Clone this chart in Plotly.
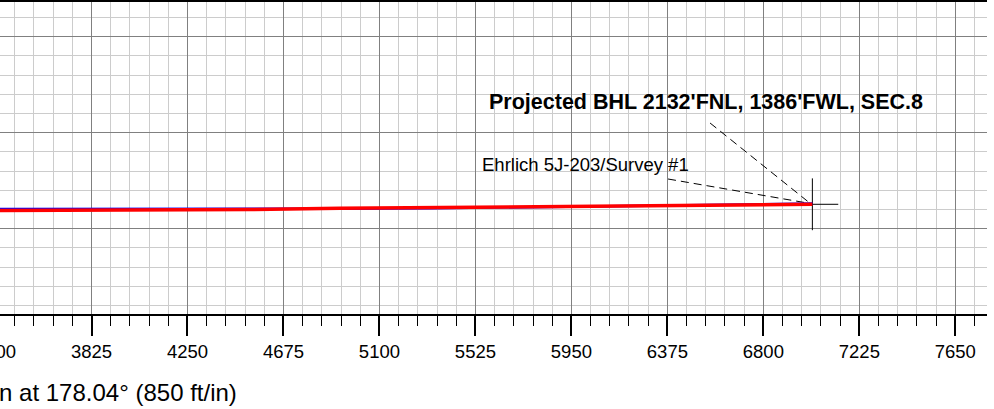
import plotly.graph_objects as go

# Vertical section (ft) vs TVD (ft)
plan_vs = [3200, 3420, 4173, 4527, 4925, 5324, 5678, 6076, 6431, 7017]
plan_tvd = [8413, 8413, 8413, 8414, 8412, 8410, 8405, 8400, 8396, 8389]

actual_vs = [3200, 3420, 4173, 4527, 4925, 5324, 5678, 6076, 6431, 7017]
actual_tvd = [8421, 8420, 8419, 8415, 8410, 8407, 8404, 8402, 8399, 8392]

bhl_vs = [7017]
bhl_tvd = [8392]

# leader lines: label end -> BHL
survey_leader_vs = [6378, 7005]
survey_leader_tvd = [8280, 8388]
bhl_leader_vs = [6564, 7005]
bhl_leader_tvd = [8032, 8386]

# the original sheet is cropped on the left: draw a little wider and slide it over
CROP = 30
x_range = [3287.0, 7790.3]
y_range = [8877.8, 7496.2]

fig = go.Figure()

fig.add_trace(go.Scatter(
    x=bhl_vs, y=bhl_tvd, mode='markers',
    marker=dict(symbol='cross-thin', size=37, line=dict(color='black', width=1)),
    hoverinfo='skip'))

for lx, ly in [(survey_leader_vs, survey_leader_tvd), (bhl_leader_vs, bhl_leader_tvd)]:
    fig.add_trace(go.Scatter(
        x=lx, y=ly, mode='lines',
        line=dict(color='black', width=1, dash='8px,5px'),
        hoverinfo='skip'))

fig.add_trace(go.Scatter(
    x=plan_vs, y=plan_tvd, mode='lines', name='Plan',
    line=dict(color='#0000ff', width=2.5)))
fig.add_trace(go.Scatter(
    x=actual_vs, y=actual_tvd, mode='lines', name='Ehrlich 5J-203/Survey #1',
    line=dict(color='#ff0000', width=3.5)))

fig.add_annotation(
    x=5545, y=8216, xref='x', yref='y', xanchor='left', yanchor='middle',
    text='Ehrlich 5J-203/Survey #1', showarrow=False,
    font=dict(size=18.5, color='black', family='Liberation Sans, Arial'))
fig.add_annotation(
    x=5575, y=7941, xref='x', yref='y', xanchor='left', yanchor='middle',
    text="<b>Projected BHL 2132'FNL, 1386'FWL, SEC.8</b>", showarrow=False,
    font=dict(size=21.5, color='black', family='Liberation Sans, Arial'))
fig.add_annotation(
    x=(239 + CROP) / (987 + CROP), y=-0.25, xref='paper', yref='paper',
    xanchor='right', yanchor='middle',
    text='Vertical Section at 178.04° (850 ft/in)', showarrow=False,
    font=dict(size=24, color='black', family='Liberation Sans, Arial'))

fig.update_xaxes(
    range=x_range, tick0=0, dtick=425,
    showgrid=True, gridcolor='#808080', gridwidth=1,
    ticks='outside', ticklen=20, tickwidth=1.5, tickcolor='black',
    showline=True, linecolor='black', linewidth=2, mirror=True,
    zeroline=False,
    tickfont=dict(size=18.5, color='black', family='Liberation Sans, Arial'),
    minor=dict(dtick=85, tick0=0, showgrid=True, gridcolor='#cccccc', gridwidth=1,
               ticks='outside', ticklen=10, tickwidth=1, tickcolor='black'),
    automargin=False)
fig.update_yaxes(
    range=y_range, tick0=0, dtick=425,
    showgrid=True, gridcolor='#808080', gridwidth=1,
    showticklabels=False, ticks='', showline=False, zeroline=False,
    minor=dict(dtick=85, tick0=0, showgrid=True, gridcolor='#cccccc', gridwidth=1),
    automargin=False)

fig.update_layout(
    width=994 + CROP, height=409,
    margin=dict(l=0, r=7, t=2, b=95),
    paper_bgcolor='white', plot_bgcolor='white',
    showlegend=False)

post = ("document.body.style.margin='0';document.body.style.overflow='hidden';"
        "document.getElementById('{plot_id}').style.marginLeft='-%dpx';" % CROP)
fig.write_html("out.html", post_script=post, config={'displayModeBar': False})
